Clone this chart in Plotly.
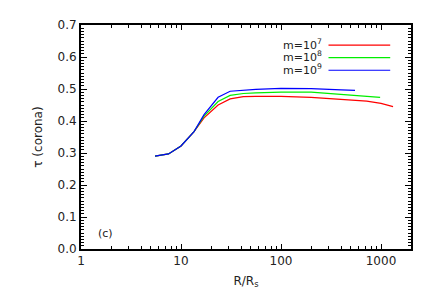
import plotly.graph_objects as go

# Data
r_m7 = [5.5, 7.5, 10, 13.5, 17, 23.5, 31, 42, 56, 100, 200, 400, 720, 1000, 1320]
tau_m7 = [0.290, 0.297, 0.322, 0.367, 0.410, 0.450, 0.469, 0.476, 0.477, 0.477, 0.474, 0.468, 0.462, 0.455, 0.445]

r_m8 = [5.5, 7.5, 10, 13.5, 17, 23.5, 31, 42, 56, 100, 200, 400, 700, 980]
tau_m8 = [0.290, 0.297, 0.322, 0.367, 0.415, 0.461, 0.480, 0.486, 0.488, 0.490, 0.490, 0.484, 0.479, 0.474]

r_m9 = [5.5, 7.5, 10, 13.5, 17, 23.5, 31, 42, 56, 100, 200, 400, 550]
tau_m9 = [0.290, 0.297, 0.322, 0.367, 0.420, 0.474, 0.493, 0.497, 0.499, 0.502, 0.501, 0.497, 0.496]

labels = ["m=10<sup>7</sup>", "m=10<sup>8</sup>", "m=10<sup>9</sup>"]
colors = ["#ff0000", "#00ee00", "#0000ff"]

x_ticks = [1, 10, 100, 1000]
y_ticks = [0.0, 0.1, 0.2, 0.3, 0.4, 0.5, 0.6, 0.7]
y_ticktext = ["%.1f" % v for v in y_ticks]

font = "DejaVu Sans"
X_RANGE = [0, 3.3]
Y_RANGE = [0, 0.7]

fig = go.Figure()
for xs, ys, c, lab in zip([r_m7, r_m8, r_m9], [tau_m7, tau_m8, tau_m9], colors, labels):
    fig.add_trace(go.Scatter(x=xs, y=ys, mode="lines", line=dict(color=c, width=1.2),
                             name=lab, showlegend=False))

# empty helper trace so the mirrored (top/right) axes are drawn with their ticks
fig.add_trace(go.Scatter(x=[], y=[], xaxis="x2", yaxis="y2", showlegend=False, hoverinfo="skip"))

# manual legend (text on left, line on right)
leg_y0 = 0.915
dy = 0.056
for i, (lab, c) in enumerate(zip(labels, colors)):
    yy = leg_y0 - i * dy
    fig.add_annotation(xref="paper", yref="paper", x=0.735, y=yy, text=lab,
                       showarrow=False, xanchor="right", yanchor="middle",
                       font=dict(family=font, size=11, color="#222"))
    fig.add_shape(type="line", xref="paper", yref="paper", x0=0.750, x1=0.937,
                  y0=yy - 0.005, y1=yy - 0.005, line=dict(color=c, width=1.2))

fig.add_annotation(xref="paper", yref="paper", x=0.075, y=0.071, text="(c)",
                   showarrow=False, xanchor="center", yanchor="middle",
                   font=dict(family=font, size=11, color="#222"))

common_x = dict(type="log", range=X_RANGE, tickvals=x_ticks,
                ticks="inside", ticklen=5, tickwidth=1.2, tickcolor="black",
                showline=True, linecolor="black", linewidth=2,
                showgrid=False, zeroline=False,
                minor=dict(ticks="inside", ticklen=3, dtick="D1", tickcolor="black", showgrid=False))
common_y = dict(range=Y_RANGE, tickvals=y_ticks,
                ticks="inside", ticklen=6, tickwidth=1.2, tickcolor="black",
                showline=True, linecolor="black", linewidth=2,
                showgrid=False, zeroline=False,
                minor=dict(ticks="inside", ticklen=3, dtick=0.01, tickcolor="black", showgrid=False))

fig.update_layout(
    width=436, height=300,
    margin=dict(l=81, r=25, t=25, b=51),
    paper_bgcolor="white", plot_bgcolor="white",
    font=dict(family=font, size=12, color="#222"),
    xaxis=dict(**common_x, ticktext=[str(v) for v in x_ticks],
               title=dict(text="R/R<sub>s</sub>", font=dict(size=12), standoff=9),
               tickfont=dict(size=12)),
    yaxis=dict(**common_y, ticktext=y_ticktext,
               title=dict(text="τ (corona)", font=dict(size=12), standoff=12),
               tickfont=dict(size=12)),
    xaxis2=dict(**common_x, overlaying="x", side="top", anchor="y2", showticklabels=False),
    yaxis2=dict(**common_y, overlaying="y", side="right", anchor="x2", showticklabels=False),
)

fig.write_html("out.html", config={"displayModeBar": False},
               post_script="document.body.style.margin='0px';")
